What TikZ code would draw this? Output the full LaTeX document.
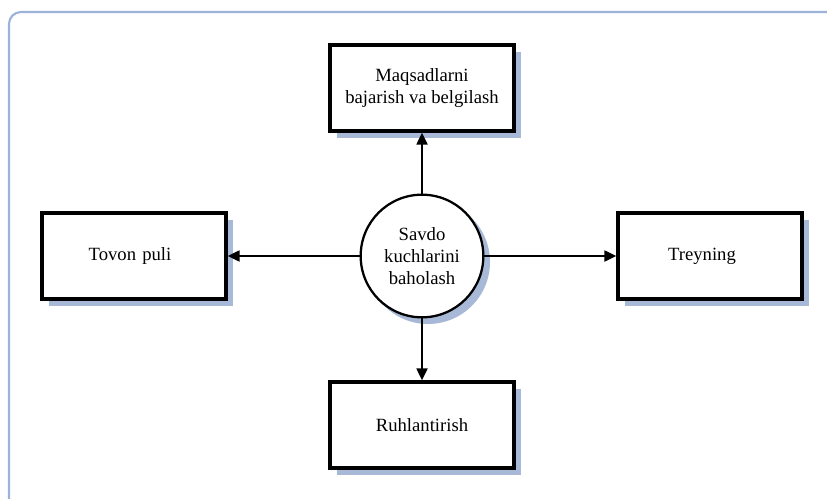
\documentclass[tikz,border=0pt]{standalone}
\usepackage{fontspec}
\setmainfont{Liberation Serif}
\usetikzlibrary{arrows.meta}
\definecolor{frame}{HTML}{9DB2D8}
\definecolor{shad}{HTML}{A8B9D8}
\tikzset{
  x=0.75pt, y=-0.75pt,
  boxnode/.style={draw=black, line width=2.3pt, fill=white, minimum width=138pt, minimum height=64.5pt, align=center, font=\fontsize{14}{16.5}\selectfont, inner sep=0pt},
  shadowbox/.style={fill=shad, draw=none, minimum width=138pt, minimum height=64.5pt, inner sep=0pt},
  hubnode/.style={draw=black, line width=1.7pt, fill=white, circle, minimum size=92pt, align=center, font=\fontsize{14}{16.5}\selectfont, inner sep=0pt},
  conn/.style={line width=2pt, -{Triangle[length=9pt, width=8pt]}}
}
\begin{document}
\begin{tikzpicture}
\useasboundingbox (0,0) rectangle (827,499);
\fill[white] (0,0) rectangle (827,499);
\draw[frame, line width=1.6pt, rounded corners=9pt] (9,505) -- (9,12) -- (835,12);
% shadows
\node[shadowbox] at (429,95) {};
\node[shadowbox] at (141,263) {};
\node[shadowbox] at (717,263) {};
\node[shadowbox] at (429,432) {};
\fill[shad] (428,262) circle (62);
% nodes
\node[boxnode] (top) at (422,88) {Maqsadlarni\\bajarish va belgilash};
\node[boxnode, text width=124pt, align=left] (left) at (134,256) {\hspace*{28pt}Tovon puli};
\node[boxnode] (right) at (710,256) {\hspace*{-12pt}Treyning};
\node[boxnode] (bottom) at (422,425) {Ruhlantirish};
\node[hubnode] (hub) at (422,256) {Savdo\\kuchlarini\\baholash};
% connectors
\draw[conn] (hub.north) -- (top.south);
\draw[conn] (hub.west) -- (left.east);
\draw[conn] (hub.east) -- (right.west);
\draw[conn] (hub.south) -- (bottom.north);
\end{tikzpicture}
\end{document}
